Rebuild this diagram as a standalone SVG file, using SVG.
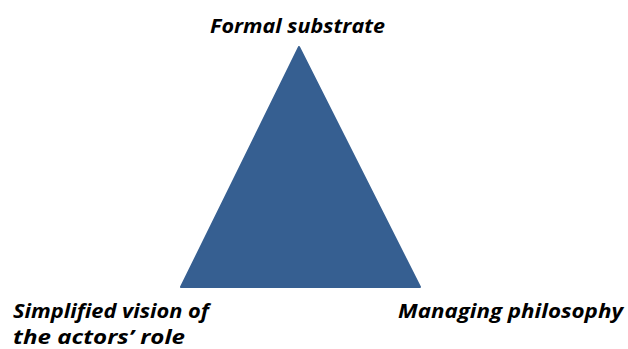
<svg xmlns="http://www.w3.org/2000/svg" width="628" height="349" viewBox="0 0 628 349">
<style>
.lbl{font-family:"Open Sans","Liberation Sans",sans-serif;font-weight:bold;font-style:italic;font-size:20px;fill:#000}
</style>
<rect width="628" height="349" fill="#fff"/>
<g id="triangle">
<polygon points="299,47 181,287 420,287" fill="#365F91" stroke="#365F91" stroke-width="2" stroke-linejoin="round"/>
</g>
<g id="connectors"></g>
<g id="top">
<text class="lbl" x="210" y="33" textLength="175" lengthAdjust="spacingAndGlyphs">Formal substrate</text>
</g>
<g id="left">
<text class="lbl" x="13" y="318" textLength="196" lengthAdjust="spacingAndGlyphs">Simplified vision of</text>
<text class="lbl" x="13" y="344" textLength="172" lengthAdjust="spacingAndGlyphs">the actors’ role</text>
</g>
<g id="right">
<text class="lbl" x="398" y="318" textLength="225" lengthAdjust="spacingAndGlyphs">Managing philosophy</text>
</g>
</svg>
